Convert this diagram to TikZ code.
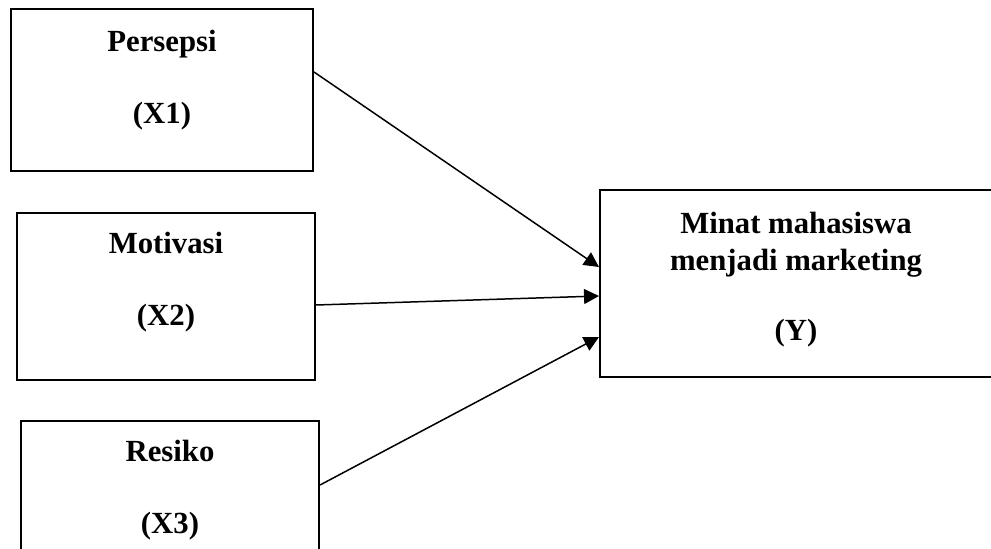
\documentclass[tikz,border=0pt]{standalone}
\usepackage{fontspec}
\setmainfont{Liberation Serif}
\usepackage{tikz}
\usetikzlibrary{arrows.meta,positioning,calc}

\begin{document}
\begin{tikzpicture}[x=0.02cm, y=-0.02cm, >={Triangle[length=8.5pt,width=8.5pt]},
  varbox/.style={rectangle, draw=black, line width=1.2pt, inner sep=0pt},
  vartext/.style={align=center, font=\fontsize{17.5}{21}\selectfont\bfseries},
  varline/.style={->, line width=0.85pt}]
\useasboundingbox (0,0) rectangle (991,548);
\clip (0,0) rectangle (991,548);
% independent variables
\node[varbox, minimum width=6.04cm, minimum height=3.24cm,
  label={[vartext, yshift=0.2cm]center:Persepsi\\[20pt](X1)}] (x1) at (162,90) {};
\node[varbox, minimum width=5.96cm, minimum height=3.34cm,
  label={[vartext, yshift=0.29cm]center:Motivasi\\[20pt](X2)}] (x2) at (166,296.5) {};
\node[varbox, minimum width=5.96cm, minimum height=3.34cm,
  label={[vartext, yshift=0.29cm]center:Resiko\\[20pt](X3)}] (x3) at (170,504.5) {};
% dependent variable
\node[varbox, minimum width=8.2cm, minimum height=3.74cm,
  label={[vartext, xshift=-0.18cm, yshift=0.07cm]center:Minat mahasiswa\\menjadi marketing\\[19pt](Y)}] (y) at (805,283.5) {};
\draw[varline] ([yshift=0.36cm]x1.east)--([yshift=0.33cm]y.west);
\draw[varline] ([yshift=-0.17cm]x2.east)--([yshift=-0.25cm]y.west);
\draw[varline] ([yshift=0.39cm]x3.east)--([yshift=-1.07cm]y.west);
\end{tikzpicture}
\end{document}
